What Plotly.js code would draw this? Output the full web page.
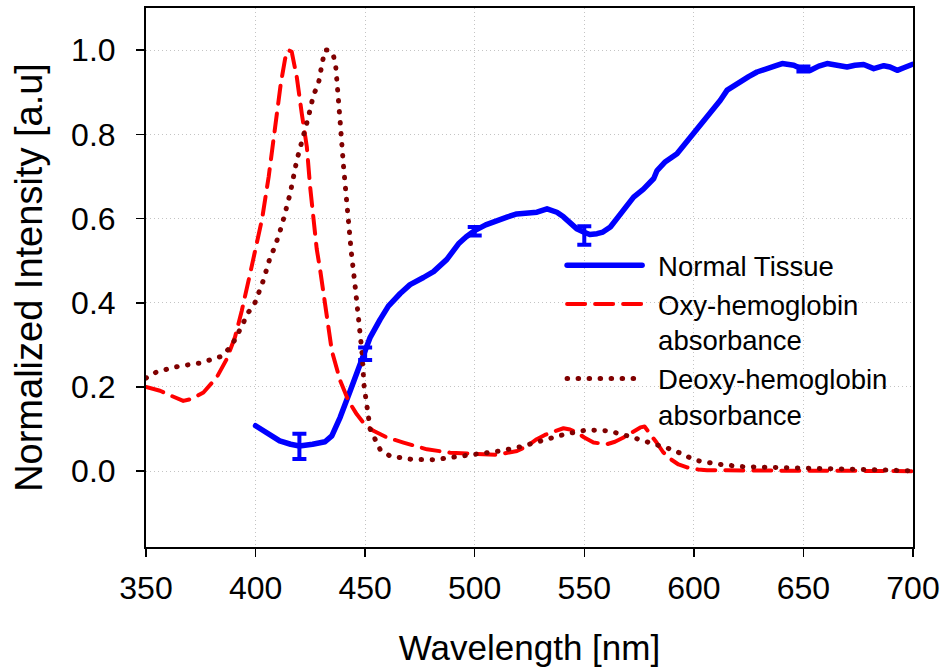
<!DOCTYPE html>
<html><head><meta charset="utf-8">
<script src="https://cdn.plot.ly/plotly-3.0.1.min.js"></script>
<style>
html,body{margin:0;padding:0;background:#fff;}
#chart{width:944px;height:668px;}
path.js-line{stroke-linecap:round;stroke-linejoin:round;}
</style></head><body><div id="chart"></div>
<script>
// Normal tissue reflectance
const tissueX = [400,405,411,416,420,426,431.7,434.8,438.6,443.2,447.7,452.3,456.8,460.6,466,470.5,476.6,481.2,487.3,492.6,496,500.2,505,510.1,515,519.2,524,528.4,533,537.5,540.5,543.6,546.5,549.7,552.5,555.8,558.5,561.9,565,569.5,572.5,577,581.7,583.2,587,592.3,596,599.9,604,607.5,612.1,615.2,618,621.2,625,628.8,631.5,634.9,637.5,640.3,643,645.6,648,650.2,653.2,657,660.8,665.3,669.9,673.5,677.5,682.1,686.7,689.5,692.8,695.8,699.6];
const tissueY = [0.108,0.092,0.072,0.064,0.06,0.064,0.07,0.084,0.128,0.191,0.255,0.318,0.36,0.392,0.422,0.443,0.46,0.474,0.503,0.54,0.556,0.572,0.585,0.596,0.604,0.611,0.612,0.615,0.623,0.615,0.604,0.588,0.576,0.568,0.562,0.564,0.568,0.58,0.6,0.627,0.651,0.67,0.695,0.714,0.735,0.754,0.778,0.802,0.826,0.849,0.881,0.905,0.915,0.925,0.937,0.948,0.952,0.956,0.963,0.968,0.966,0.964,0.958,0.952,0.952,0.962,0.968,0.963,0.96,0.964,0.966,0.956,0.963,0.96,0.952,0.958,0.966];
// Error bars on tissue curve
const errX = [420,450,500,550,650];
const errY = [0.059,0.279,0.57,0.56,0.955];
const errV = [0.03,0.015,0.01,0.022,0.006];
// Oxy-hemoglobin absorbance
const oxyX = [350,356.4,362,367,371,376.2,382.3,386.8,390.6,393.7,397.5,400,403,406,409,411.5,413.5,415,416.5,418.8,421.1,423.4,424.9,426.4,427.9,429.5,431.7,434.8,438.6,442.4,446.2,450,453.8,460,467.5,478.2,488.8,499.5,510.1,519.3,524,528.3,532,536,540.5,543.5,546.6,550,554.2,560.3,564,567.9,572,575.6,577.5,580,583,586,589.3,593,596.9,602,606,615,630,650,670,690,700];
const oxyY = [0.2,0.191,0.178,0.167,0.172,0.187,0.223,0.266,0.318,0.381,0.469,0.53,0.6,0.7,0.82,0.92,0.98,1.0,0.996,0.936,0.849,0.77,0.675,0.596,0.528,0.477,0.397,0.286,0.215,0.167,0.135,0.11,0.096,0.08,0.068,0.052,0.044,0.042,0.039,0.048,0.06,0.076,0.086,0.094,0.102,0.099,0.092,0.08,0.068,0.064,0.07,0.08,0.094,0.104,0.106,0.09,0.068,0.045,0.029,0.016,0.009,0.004,0.002,0.002,0.001,0.001,0.001,0.0,0.0];
// Deoxy-hemoglobin absorbance
const deoxyX = [350,354.9,364.8,374.7,384.6,389.1,391.7,396.7,399.8,403.6,406.6,408.9,412,415.8,418.8,421.8,424.1,426.4,428.7,430.5,431.7,433.5,435.5,436.6,437.8,438.6,440.1,441.6,442.8,443.6,445.4,446.9,448.5,449.5,450.8,452.3,456.8,461.4,471.3,481.2,491.1,501.7,511.6,520.8,531.4,541.3,551.2,561.1,571,580.9,590.8,600.7,610.6,621.2,641,660.8,680.6,700];
const deoxyY = [0.221,0.236,0.249,0.257,0.273,0.298,0.324,0.377,0.401,0.454,0.507,0.534,0.584,0.66,0.738,0.794,0.841,0.893,0.921,0.972,1.0,1.0,0.988,0.96,0.893,0.83,0.726,0.631,0.572,0.524,0.441,0.362,0.286,0.203,0.151,0.1,0.052,0.036,0.028,0.027,0.034,0.04,0.048,0.058,0.074,0.088,0.098,0.096,0.082,0.067,0.05,0.026,0.017,0.011,0.009,0.006,0.003,0.001];
const xTicks = [350,400,450,500,550,600,650,700];
const yTicks = [0.0,0.2,0.4,0.6,0.8,1.0];
const names = ['Normal Tissue','Oxy-hemoglobin<br>absorbance','Deoxy-hemoglobin<br>absorbance'];

const FONT = 'Arial, "Liberation Sans", sans-serif';
const traces = [
  {x: tissueX, y: tissueY, mode: 'lines', name: names[0], line: {color: '#0000ff', width: 5.5}},
  {x: oxyX, y: oxyY, mode: 'lines', name: names[1], line: {color: '#ff0000', width: 4, dash: '18px,10px'}},
  {x: deoxyX, y: deoxyY, mode: 'lines', name: names[2], line: {color: '#800000', width: 5, dash: '0.5px,10.5px'}},
  {x: errX, y: errY, mode: 'markers', showlegend: false, hoverinfo: 'skip',
   marker: {size: 1, color: 'rgba(0,0,0,0)'},
   error_y: {type: 'data', array: errV, visible: true, color: '#0000ff', thickness: 4, width: 7}}
];
const axisCommon = {
  showline: true, linecolor: '#000', linewidth: 2, mirror: true,
  ticks: 'outside', ticklen: 8, tickwidth: 1.5, tickcolor: '#000',
  showgrid: true, gridcolor: '#c4c4c4', gridwidth: 1, griddash: '1px,3px',
  zeroline: false, tickfont: {family: FONT, size: 32, color: '#000'}
};
const layout = {
  width: 944, height: 668,
  paper_bgcolor: '#fff', plot_bgcolor: '#fff',
  margin: {l: 146, r: 31, t: 8, b: 121},
  showlegend: true,
  xaxis: Object.assign({}, axisCommon, {
    range: [350, 700], tickvals: xTicks, ticktext: xTicks.map(String),
    ticklabelstandoff: 4,
    title: {text: 'Wavelength [nm]', font: {family: FONT, size: 35, color: '#000'}, standoff: 30}
  }),
  yaxis: Object.assign({}, axisCommon, {
    range: [-0.18, 1.1], tickvals: yTicks, ticktext: yTicks.map(v => v.toFixed(1)),
    ticklabelstandoff: 14,
    title: {text: 'Normalized Intensity [a.u]', font: {family: FONT, size: 38, color: '#000'}, standoff: 17}
  }),
  legend: {
    x: 0.5425, xanchor: 'left', y: 0.568, yanchor: 'top',
    bgcolor: 'rgba(0,0,0,0)', borderwidth: 0, itemwidth: 86, valign: 'top',
    font: {family: FONT, size: 27.5, color: '#000'}, tracegroupgap: 0
  }
};
Plotly.newPlot('chart', traces, layout, {displayModeBar: false, staticPlot: true}).then(gd => {
  document.querySelectorAll('.legend g.legendlines path').forEach(p => p.setAttribute('d', 'M5,0h75'));
});
</script></body></html>
